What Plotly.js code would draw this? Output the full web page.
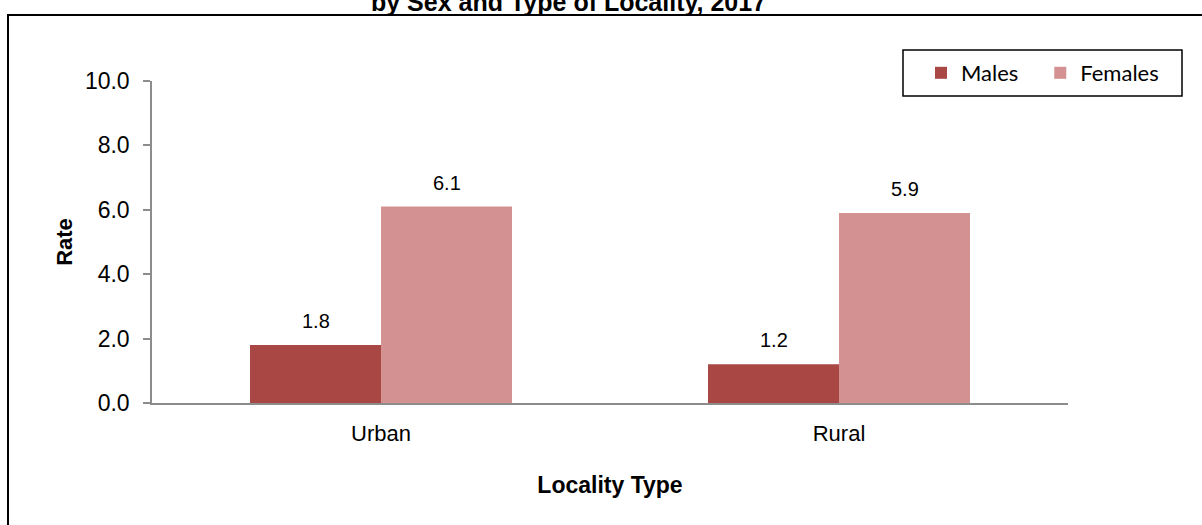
<!DOCTYPE html>
<html>
<head>
<meta charset="utf-8">
<script src="https://cdn.plot.ly/plotly-3.0.1.min.js"></script>
<style>
  html, body { margin: 0; padding: 0; background: #fff; }
  #chart { width: 1202px; height: 525px; }
</style>
</head>
<body>
<div id="chart"></div>
<script>
// Data
const categories = ["Urban", "Rural"];
const males = [1.8, 1.2];
const females = [6.1, 5.9];
const yTickVals = [0, 2, 4, 6, 8, 10];
const seriesNames = ["Males", "Females"];
const titleText = "by Sex and Type of Locality, 2017";

const W = 1202, H = 525;
const L = 152, R = 1068, T = 81, B = 403;
const px = x => (x - L) / (R - L);
const py = y => (B - y) / (B - T);

const FONT = "Liberation Sans, Arial, sans-serif";
const COLORS = ["#A94745", "#D39191"];
const SERIES = [males, females];
const BAR_OFFSET = 65.5; // half bar width in px
const PAD = ["\u00a0\u00a0\u00a0", ""]; // spacing between legend entries

const traces = SERIES.map((vals, i) => ({
  type: "bar", name: seriesNames[i] + PAD[i], x: categories, y: vals,
  marker: { color: COLORS[i] }, hoverinfo: "x+y"
}));

// data labels, anchored on each bar's value through the axes
const labelAnns = [];
SERIES.forEach((vals, i) => {
  vals.forEach((v, j) => {
    labelAnns.push({
      xref: "x", yref: "y", x: categories[j], y: v,
      text: v.toFixed(1), showarrow: false,
      xanchor: "center", yanchor: "bottom",
      xshift: (i === 0 ? -1 : 1) * BAR_OFFSET, yshift: 11,
      font: { family: FONT, size: 20, color: "#000" }
    });
  });
});

const layout = {
  width: W, height: H,
  margin: { l: L, r: W - R, t: T, b: H - B, pad: 0 },
  paper_bgcolor: "#fff", plot_bgcolor: "#fff",
  barmode: "group", bargap: 0.428, bargroupgap: 0,
  showlegend: true,
  legend: {
    orientation: "h", x: px(921), xanchor: "left", y: py(73), yanchor: "middle",
    font: { family: "Lato, Carlito, sans-serif", size: 22, color: "#000" },
    bgcolor: "rgba(0,0,0,0)", borderwidth: 0, itemclick: false, itemdoubleclick: false
  },
  xaxis: {
    type: "category", showline: true, linecolor: "#8c8c8c", linewidth: 2,
    ticks: "", showgrid: false, zeroline: false,
    tickfont: { family: FONT, size: 22, color: "#000" },
    ticklabelstandoff: 10,
    title: { text: "<b>Locality Type</b>", font: { family: FONT, size: 23, color: "#000" }, standoff: 31 },
    automargin: false, fixedrange: true
  },
  yaxis: {
    range: [0, 10], tickvals: yTickVals, tickformat: ".1f",
    showline: true, linecolor: "#8c8c8c", linewidth: 1.5,
    ticks: "outside", ticklen: 7, tickcolor: "#8c8c8c", tickwidth: 1.5,
    showgrid: false, zeroline: false,
    tickfont: { family: FONT, size: 23, color: "#000" },
    ticklabelstandoff: 9,
    title: { text: "<b>Rate</b>", font: { family: FONT, size: 22, color: "#000" }, standoff: 6 },
    automargin: false, fixedrange: true
  },
  annotations: [
    {
      text: "<b>" + titleText + "</b>", xref: "paper", yref: "paper",
      x: px(568), y: py(18), xanchor: "center", yanchor: "bottom",
      showarrow: false, font: { family: FONT, size: 25, color: "#000" }
    }
  ].concat(labelAnns),
  shapes: [
    { type: "rect", xref: "paper", yref: "paper", x0: px(8), x1: px(1260), y0: py(560), y1: py(15),
      line: { color: "#000", width: 2 }, fillcolor: "rgba(0,0,0,0)", layer: "above" },
    { type: "rect", xref: "paper", yref: "paper", x0: px(903), x1: px(1182), y0: py(96), y1: py(50),
      line: { color: "#000", width: 1.5 }, fillcolor: "rgba(0,0,0,0)", layer: "above" }
  ]
};

Plotly.newPlot("chart", traces, layout, { displayModeBar: false });
</script>
</body>
</html>
